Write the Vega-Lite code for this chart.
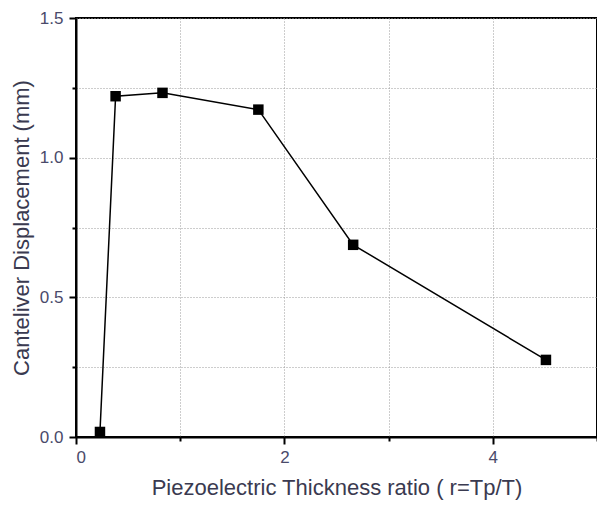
{
  "$schema": "https://vega.github.io/schema/vega-lite/v6.json",
  "autosize": "none",
  "width": 521,
  "height": 419,
  "padding": {"left": 76, "top": 18, "right": 0, "bottom": 71},
  "background": "white",
  "config": {
    "view": {"stroke": "black", "strokeWidth": 2},
    "font": "Liberation Sans"
  },
  "data": {
    "values": [
      {"r": 0.23, "d": 0.018},
      {"r": 0.38, "d": 1.22},
      {"r": 0.83, "d": 1.232},
      {"r": 1.75, "d": 1.172},
      {"r": 2.66, "d": 0.688},
      {"r": 4.51, "d": 0.276}
    ]
  },
  "encoding": {
    "x": {
      "field": "r",
      "type": "quantitative",
      "scale": {"domain": [0, 5], "nice": false, "zero": false},
      "axis": {
        "title": "Piezoelectric Thickness ratio ( r=Tp/T)",
        "values": [0, 1, 2, 3, 4, 5],
        "labelExpr": "datum.value % 2 == 0 ? datum.label : ''",
        "grid": true,
        "gridDash": [1, 2],
        "gridColor": "#9a9a9a",
        "gridWidth": 1,
        "domainColor": "black",
        "domainWidth": 2,
        "tickColor": "black",
        "tickWidth": 2,
        "tickSize": {"condition": {"test": "datum.value % 2 == 0", "value": 7}, "value": 4},
        "labelFont": "Liberation Sans",
        "labelFontSize": 17,
        "labelColor": "#4a4a6a",
        "labelPadding": 5,
        "titleFont": "Liberation Sans",
        "titleFontSize": 22,
        "titleFontWeight": "normal",
        "titleColor": "#3a3a50",
        "titlePadding": 12
      }
    },
    "y": {
      "field": "d",
      "type": "quantitative",
      "scale": {"domain": [0, 1.5], "nice": false, "zero": false},
      "axis": {
        "title": "Canteliver Displacement (mm)",
        "values": [0, 0.25, 0.5, 0.75, 1.0, 1.25, 1.5],
        "labelExpr": "(datum.value * 2) % 1 == 0 ? format(datum.value, '.1f') : ''",
        "grid": true,
        "gridDash": [1, 2],
        "gridColor": "#9a9a9a",
        "gridWidth": 1,
        "domainColor": "black",
        "domainWidth": 2,
        "tickColor": "black",
        "tickWidth": 2,
        "tickSize": {"condition": {"test": "(datum.value * 2) % 1 == 0", "value": 7}, "value": 4},
        "labelFont": "Liberation Sans",
        "labelFontSize": 17,
        "labelColor": "#4a4a6a",
        "labelPadding": 6,
        "titleFont": "Liberation Sans",
        "titleFontSize": 22,
        "titleFontWeight": "normal",
        "titleColor": "#3a3a50",
        "titlePadding": 6
      }
    }
  },
  "layer": [
    {"mark": {"type": "line", "color": "black", "strokeWidth": 1.5}},
    {"mark": {"type": "point", "shape": "square", "filled": true, "color": "black", "opacity": 1, "size": 110}}
  ]
}
